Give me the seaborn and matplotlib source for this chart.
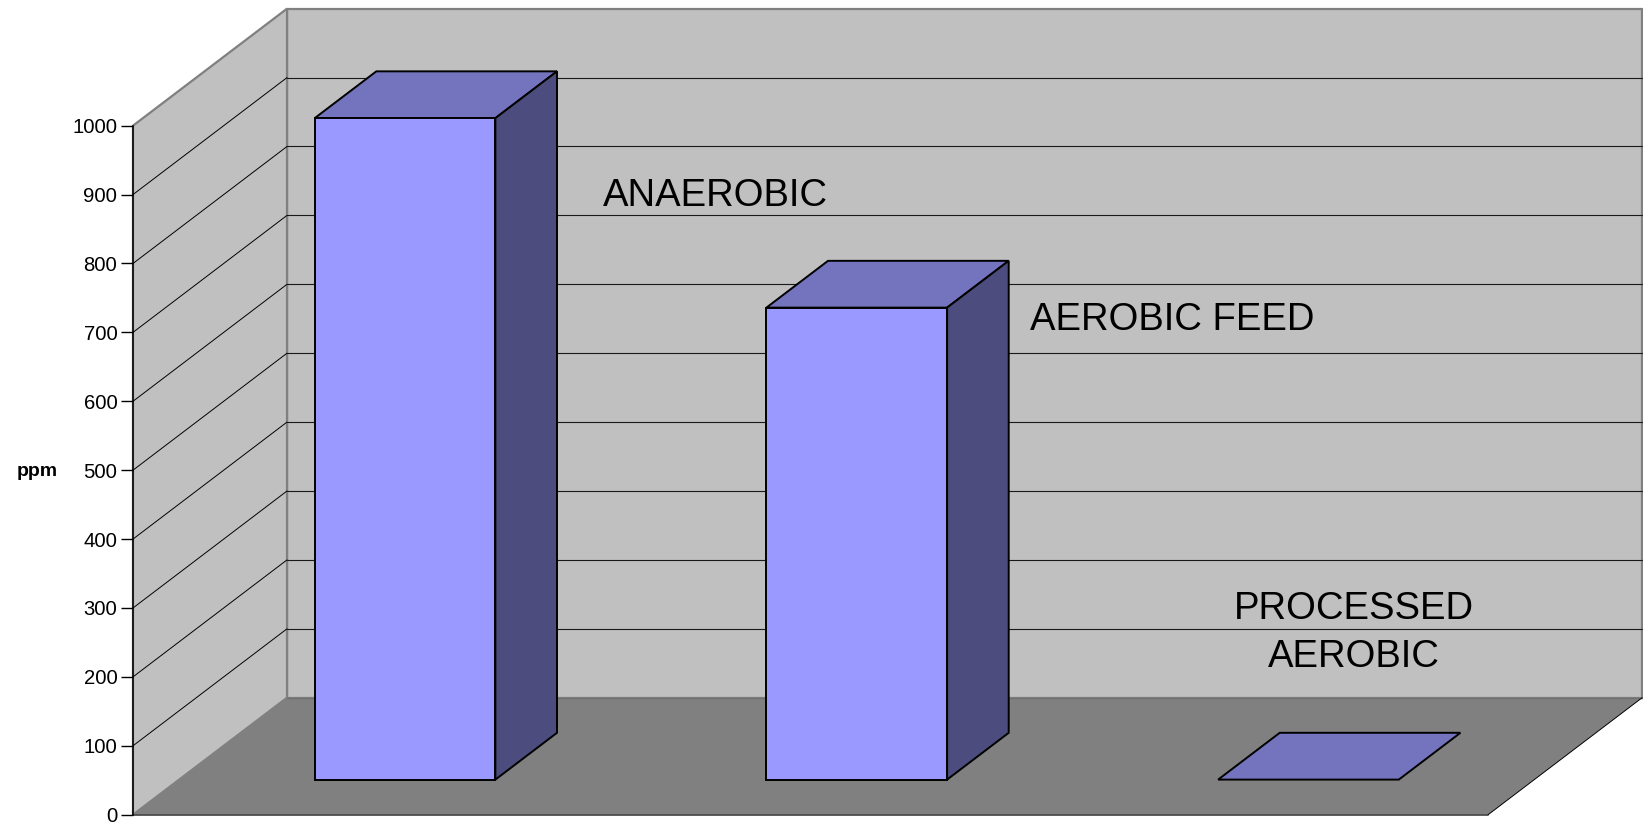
import numpy as np
import pandas as pd
import matplotlib.pyplot as plt
import matplotlib.patches as mpatches
import seaborn as sns


# DATA
categories = ['ANAEROBIC', 'AEROBIC FEED', 'PROCESSED\nAEROBIC']
ppm_values = [960, 685, 0]
y_ticks = [0, 100, 200, 300, 400, 500, 600, 700, 800, 900, 1000]

# where the category names sit (category units, ppm of last baseline)
label_x = [0.54, 1.486, 2.202]
label_y = [884, 703, 215]
label_ha = ['left', 'left', 'center']

df = pd.DataFrame({'sample': categories, 'ppm': ppm_values})

sns.set_style('white')
plt.rcParams['font.family'] = ['Liberation Sans', 'DejaVu Sans']
plt.rcParams['text.color'] = 'black'
plt.rcParams['axes.labelcolor'] = 'black'

# fake 3d box (oblique projection)
DX, DY = 0.341, 169.8   # box depth, in category units / ppm
Z0, Z1 = 0.3, 0.7       # bar depth inside the box
YMAX = 1000

fig = plt.figure(figsize=(16.43, 8.25), dpi=100)
ax = fig.add_axes([0, 0, 1, 1])
ax.set_facecolor('none')

c = sns.barplot(data=df, x='sample', y='ppm', order=categories, width=0.4,
                color='#9999FF', saturation=1, edgecolor='black', linewidth=1.4,
                errorbar=None, ax=ax, zorder=5)
bars = list(ax.patches)

n = len(categories)
x_lo, x_hi = -0.5, n - 0.5

# walls + floor
ax.add_patch(mpatches.Rectangle((x_lo + DX, DY), n, YMAX, fc='#C0C0C0',
                                ec='#808080', lw=1.6, zorder=0))
ax.add_patch(mpatches.Polygon([(x_lo, 0), (x_lo + DX, DY), (x_lo + DX, YMAX + DY), (x_lo, YMAX)],
                              closed=True, fc='#C0C0C0', ec='#808080', lw=1.6, zorder=0.1))
ax.add_patch(mpatches.Polygon([(x_lo, 0), (x_hi, 0), (x_hi + DX, DY), (x_lo + DX, DY)],
                              closed=True, fc='#808080', ec='none', zorder=0.6))
for v in y_ticks[1:-1]:
    ax.plot([x_lo + DX, x_hi + DX], [v + DY, v + DY], color='#1a1a1a', lw=0.8, zorder=0.5)
    ax.plot([x_lo, x_lo + DX], [v, v + DY], color='black', lw=0.7, zorder=0.5)
ax.plot([x_lo + DX, x_hi + DX], [DY, DY], color='#707070', lw=1, zorder=0.7)
ax.plot([x_lo, x_hi], [0, 0], color='#404040', lw=1.2, zorder=0.7)
ax.plot([x_hi, x_hi + DX], [0, DY], color='black', lw=0.7, zorder=0.7)

# bars: push front face back to Z0, add top and side faces
dd = Z1 - Z0
for p in bars:
    p.set_x(p.get_x() + Z0 * DX)
    p.set_y(Z0 * DY)
    x0, y0, w, h = p.get_x(), p.get_y(), p.get_width(), p.get_height()
    top = y0 + h
    ax.add_patch(mpatches.Polygon([(x0, top), (x0 + w, top), (x0 + w + dd * DX, top + dd * DY),
                                   (x0 + dd * DX, top + dd * DY)], closed=True,
                                  fc='#7474BE', ec='black', lw=1.4, zorder=4))
    if h > 0:
        ax.add_patch(mpatches.Polygon([(x0 + w, y0), (x0 + w + dd * DX, y0 + dd * DY),
                                       (x0 + w + dd * DX, top + dd * DY), (x0 + w, top)],
                                      closed=True, fc='#4C4C7E', ec='black', lw=1.4, zorder=4))
    else:
        p.set_visible(False)

for i in range(n):
    ax.text(label_x[i], label_y[i], categories[i], fontsize=27.5, ha=label_ha[i],
            va='baseline', linespacing=1.43, multialignment='center', color='black', zorder=6)

ax.set_xlim(-0.7944, 2.8429)
ax.set_ylim(-14.95, 1182.4)

for s in ['top', 'right', 'bottom']:
    ax.spines[s].set_visible(False)
ax.spines['left'].set_position(('data', x_lo))
ax.spines['left'].set_bounds(0, YMAX)
ax.spines['left'].set_color('black')
ax.spines['left'].set_linewidth(1.1)
ax.spines['left'].set_zorder(3)

ax.set_xticks([])
ax.set(xlabel=None)
ax.set_yticks(y_ticks)
ax.tick_params(axis='y', left=True, direction='out', length=8.6, width=1,
               pad=2.7, labelsize=14.6, colors='black')
ax.set_ylabel('ppm', fontsize=14, fontweight='bold', rotation=0, va='center',
              ha='center', color='black')
ax.yaxis.set_label_coords(0.02276, 0.4282)

plt.savefig('out.png', dpi=100)
